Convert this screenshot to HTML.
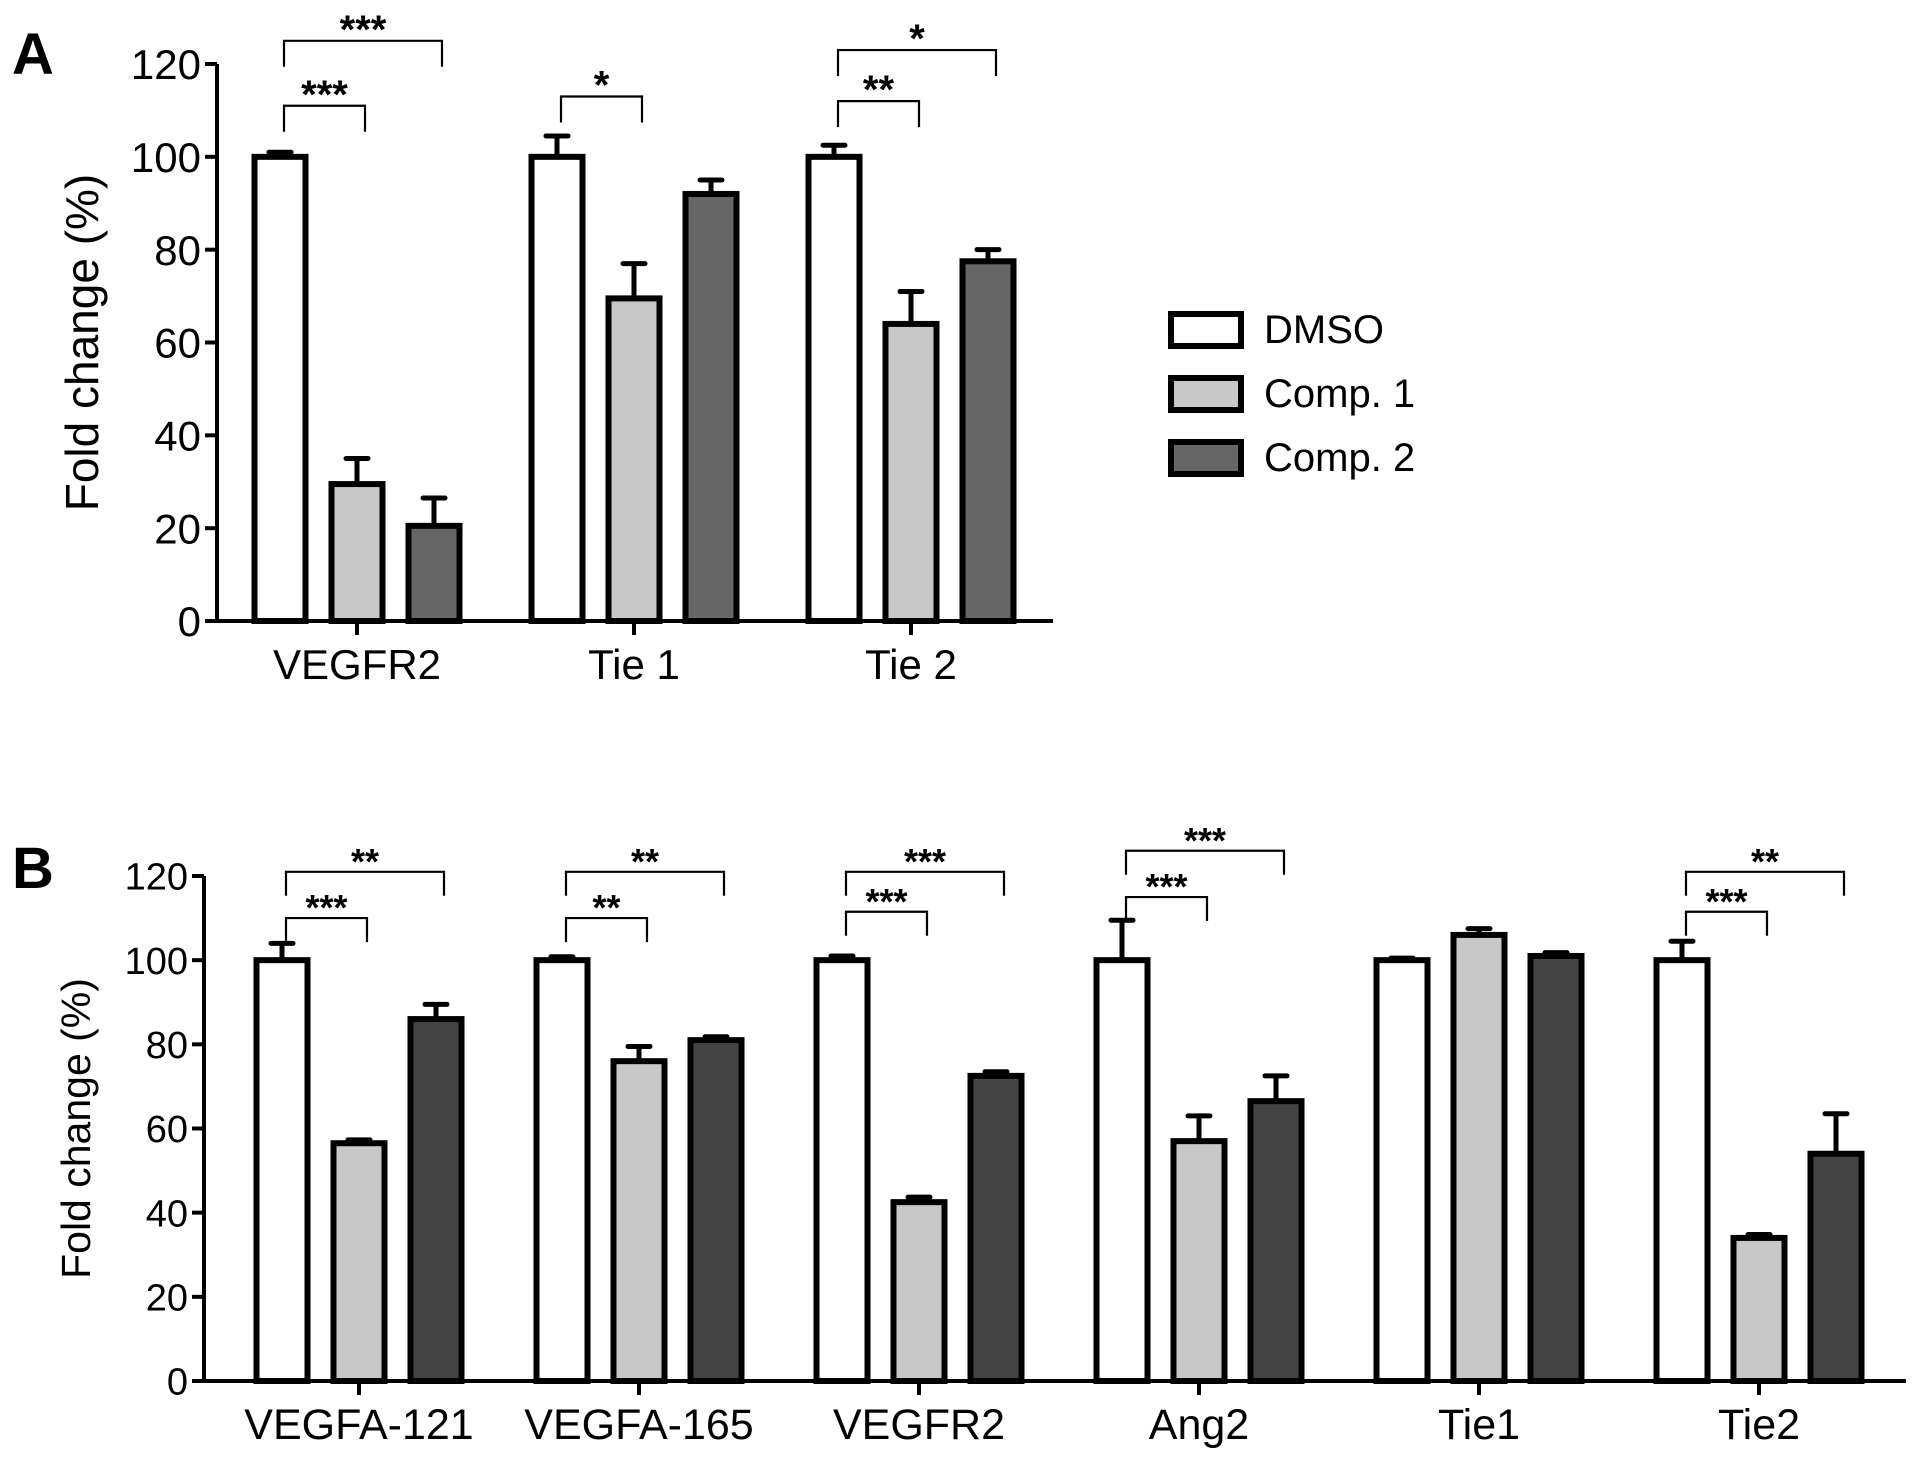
<!DOCTYPE html>
<html><head><meta charset="utf-8"><style>
html,body{margin:0;padding:0;background:#fff;}
svg{display:block;font-family:"Liberation Sans",Arial,sans-serif;}
</style></head><body>
<svg id="chart" width="1913" height="1462" viewBox="0 0 1913 1462" xmlns="http://www.w3.org/2000/svg">
<text x="12" y="74" font-size="58" font-weight="bold">A</text>
<text x="12" y="888" font-size="58" font-weight="bold">B</text>
<g id="pa"></g>
<g id="pb"></g>
<g id="legend"></g>
</svg>
<script>
// Panel A data
const aCategories = ["VEGFR2", "Tie 1", "Tie 2"];
const aDMSO = [100, 100, 100];
const aDMSOErr = [1, 4.5, 2.5];
const aComp1 = [29.5, 69.5, 64];
const aComp1Err = [5.5, 7.5, 7];
const aComp2 = [20.5, 92, 77.5];
const aComp2Err = [6, 3, 2.5];
const aSigGroup = [0, 0, 1, 2, 2];
const aSigTo = [1, 2, 1, 1, 2];
const aSigLevel = [111, 125, 113, 112, 123];
const aSigText = ["***", "***", "*", "**", "*"];
const aTicks = [0, 20, 40, 60, 80, 100, 120];

// Panel B data
const bCategories = ["VEGFA-121", "VEGFA-165", "VEGFR2", "Ang2", "Tie1", "Tie2"];
const bDMSO = [100, 100, 100, 100, 100, 100];
const bDMSOErr = [4, 0.8, 1, 9.5, 0.5, 4.5];
const bComp1 = [56.5, 76, 42.5, 57, 106, 34];
const bComp1Err = [0.8, 3.5, 1.2, 6, 1.5, 0.8];
const bComp2 = [86, 81, 72.5, 66.5, 101, 54];
const bComp2Err = [3.5, 0.8, 1, 6, 0.8, 9.5];
const bSigGroup = [0, 0, 1, 1, 2, 2, 3, 3, 5, 5];
const bSigTo = [1, 2, 1, 2, 1, 2, 1, 2, 1, 2];
const bSigLevel = [110, 121, 110, 121, 111.5, 121, 115, 126, 111.5, 121];
const bSigText = ["***", "**", "**", "**", "***", "***", "***", "***", "***", "**"];
const bTicks = [0, 20, 40, 60, 80, 100, 120];

const NS = "http://www.w3.org/2000/svg";
function mk(parent, tag, attrs, text) {
  const e = document.createElementNS(NS, tag);
  for (const k in attrs) e.setAttribute(k, attrs[k]);
  if (text !== undefined) e.textContent = text;
  parent.appendChild(e);
  return e;
}

function panel(g, cfg) {
  const y = v => cfg.y0 - (v / 120) * (cfg.y0 - cfg.y120);
  const gx = i => cfg.c0 + i * cfg.gs;
  const bx = (i, s) => gx(i) + (s - 1) * cfg.pitch;
  const ya = mk(g, "line", {x1: cfg.ax, y1: y(120), x2: cfg.ax, y2: cfg.y0 + 2, stroke: "#000", "stroke-width": 4});
  
  
  cfg.ticks.forEach(t => {
    const tl = mk(g, "line", {x1: cfg.ax - 12, y1: y(t), x2: cfg.ax, y2: y(t), stroke: "#000", "stroke-width": 4});
    
    
    const tt = mk(g, "text", {x: cfg.ax - 16, y: y(t) + cfg.tfs * 0.36, "font-size": cfg.tfs, "text-anchor": "end"}, String(t));
    
    
  });
  const yt = mk(g, "text", {x: cfg.ytx, y: (y(0) + y(120)) / 2, "font-size": cfg.yfs, "text-anchor": "middle", transform: `rotate(-90 ${cfg.ytx} ${(y(0) + y(120)) / 2})`}, cfg.ytitle);
  
  
  const series = [[cfg.d, cfg.de, "#fff"], [cfg.c1, cfg.c1e, "#c8c8c8"], [cfg.c2, cfg.c2e, cfg.c2col]];
  const names = ["dmso", "comp1", "comp2"];
  cfg.cats.forEach((c, i) => {
    series.forEach((s, si) => {
      const cx = bx(i, si), v = s[0][i], e = s[1][i];
      const el = mk(g, "line", {x1: cx, y1: y(v), x2: cx, y2: y(v + e), stroke: "#000", "stroke-width": 5});
      
      
      const ec = mk(g, "line", {x1: cx - 11, y1: y(v + e), x2: cx + 11, y2: y(v + e), stroke: "#000", "stroke-width": 5, "stroke-linecap": "round"});
      
      
      const r = mk(g, "rect", {x: cx - cfg.bw / 2, y: y(v), width: cfg.bw, height: y(0) - y(v), fill: s[2], stroke: "#000", "stroke-width": 6});
      
      
    });
    const tk = mk(g, "line", {x1: gx(i), y1: cfg.y0, x2: gx(i), y2: cfg.y0 + 14, stroke: "#000", "stroke-width": 4});
    
    
    const lt = mk(g, "text", {x: gx(i), y: cfg.y0 + 58, "font-size": cfg.cfs, "text-anchor": "middle"}, c);
    
    
  });
  const xa = mk(g, "line", {x1: cfg.ax - 2, y1: cfg.y0, x2: cfg.xend, y2: cfg.y0, stroke: "#000", "stroke-width": 4});
  
  
  cfg.sg.forEach((gi, k) => {
    const x1 = bx(gi, 0) + 4, x2 = bx(gi, cfg.sto[k]) + 8, yy = y(cfg.sl[k]);
    const p = mk(g, "path", {d: `M${x1} ${yy + cfg.drop} V${yy} H${x2} V${yy + cfg.drop}`, fill: "none", stroke: "#000", "stroke-width": 2.2});
    
    
    const st = mk(g, "text", {x: (x1 + x2) / 2, y: yy + 2, "font-size": cfg.sfs, "font-weight": "bold", "text-anchor": "middle"}, cfg.st[k]);
    
    
  });
}

panel(document.getElementById("pa"), {
  ax: 217, y0: 621, y120: 64, c0: 357, gs: 277, pitch: 77, bw: 51, xend: 1053,
  cats: aCategories, d: aDMSO, de: aDMSOErr, c1: aComp1, c1e: aComp1Err, c2: aComp2, c2e: aComp2Err, c2col: "#666",
  sg: aSigGroup, sto: aSigTo, sl: aSigLevel, st: aSigText, ticks: aTicks,
  tfs: 42, yfs: 46, cfs: 42, sfs: 40, drop: 26, ytx: 98, ytitle: "Fold change (%)"
});
panel(document.getElementById("pb"), {
  ax: 204, y0: 1381, y120: 876, c0: 359, gs: 280, pitch: 77, bw: 51, xend: 1906,
  cats: bCategories, d: bDMSO, de: bDMSOErr, c1: bComp1, c1e: bComp1Err, c2: bComp2, c2e: bComp2Err, c2col: "#444",
  sg: bSigGroup, sto: bSigTo, sl: bSigLevel, st: bSigText, ticks: bTicks,
  tfs: 38, yfs: 41, cfs: 43, sfs: 36, drop: 24, ytx: 90, ytitle: "Fold change  (%)"
});

const legendNames = ["DMSO", "Comp. 1", "Comp. 2"];
const legendColors = ["#fff", "#c8c8c8", "#666"];
const lg = document.getElementById("legend");
legendNames.forEach((n, i) => {
  const yy = 314 + i * 64;
  const r = mk(lg, "rect", {x: 1171, y: yy, width: 70, height: 32, fill: legendColors[i], stroke: "#000", "stroke-width": 6});
  
  
  const t = mk(lg, "text", {x: 1264, y: yy + 29, "font-size": 40}, n);
  
  
});
</script>
</body></html>
